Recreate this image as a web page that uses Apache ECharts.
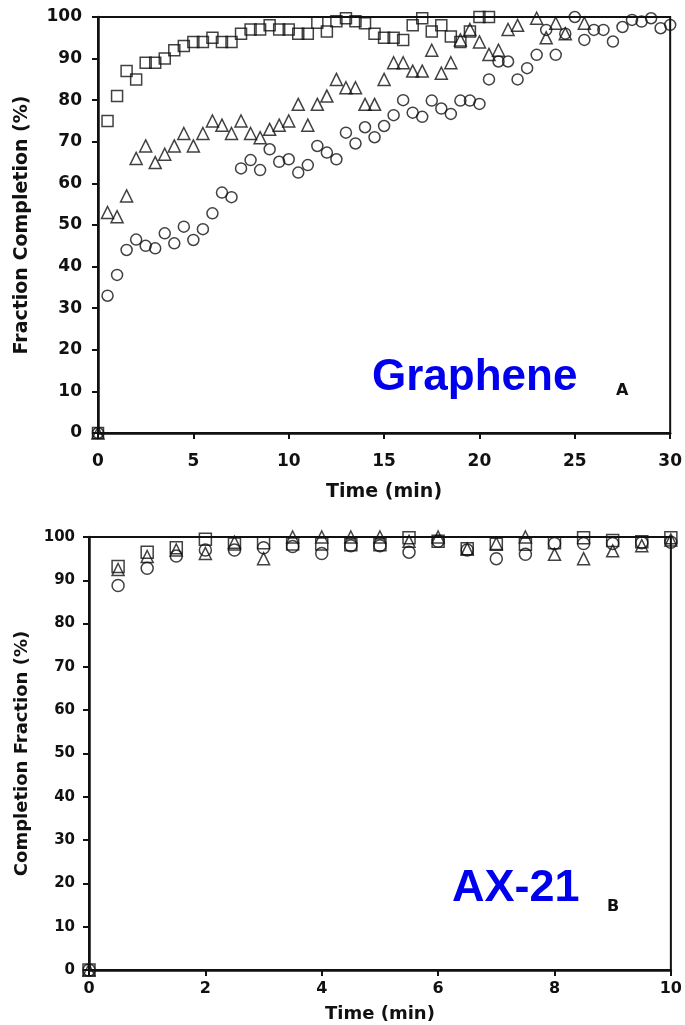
<!DOCTYPE html>
<html>
<head>
<meta charset="utf-8">
<title></title>
<script src="https://cdn.jsdelivr.net/npm/echarts@6/dist/echarts.min.js"></script>
<style>
  html, body { margin: 0; padding: 0; background: #fff; }
  #chart { width: 685px; height: 1025px; }
</style>
</head>
<body>
<div id="chart"></div>
<script>
// panel A: graphene, time in min
var timeA = [0, 0.5, 1, 1.5, 2, 2.5, 3, 3.5, 4, 4.5, 5, 5.5, 6, 6.5, 7, 7.5, 8, 8.5, 9, 9.5,
  10, 10.5, 11, 11.5, 12, 12.5, 13, 13.5, 14, 14.5, 15, 15.5, 16, 16.5, 17, 17.5, 18, 18.5, 19, 19.5,
  20, 20.5, 21, 21.5, 22, 22.5, 23, 23.5, 24, 24.5, 25, 25.5, 26, 26.5, 27, 27.5, 28, 28.5, 29, 29.5, 30];
var squaresA = [0, 75, 81, 87, 85, 89, 89, 90, 92, 93, 94, 94, 95, 94, 94, 96, 97, 97, 98, 97,
  97, 96, 96, 98.6, 96.5, 99, 99.7, 99, 98.5, 96, 95, 95, 94.5, 98, 99.7, 96.5, 98, 95.3, 94, 96.5,
  100, 100];
var trianglesA = [0, 53, 52, 57, 66, 69, 65, 67, 69, 72, 69, 72, 75, 74, 72, 75, 72, 71, 73, 74,
  75, 79, 74, 79, 81, 85, 83, 83, 79, 79, 85, 89, 89, 87, 87, 92, 86.5, 89, 94.5, 97,
  94, 91, 92, 97, 98, null, 99.7, 95, 98.5, 96, null, 98.5];
var circlesA = [0, 33, 38, 44, 46.5, 45, 44.4, 48, 45.6, 49.6, 46.4, 49, 52.8, 57.8, 56.7, 63.6, 65.6, 63.2, 68.2, 65.2,
  65.8, 62.6, 64.4, 69, 67.4, 65.8, 72.2, 69.6, 73.5, 71.1, 73.8, 76.4, 80, 77, 76, 79.9, 78, 76.7, 79.9, 79.9,
  79.1, 85, 89.3, 89.3, 85, 87.7, 90.9, 96.9, 90.9, 96, 100, 94.5, 96.9, 96.9, 94.1, 97.6, 99.3, 98.9, 99.7, 97.3, 98.1];

// panel B: AX-21
var timeB = [0, 0.5, 1, 1.5, 2, 2.5, 3, 3.5, 4, 4.5, 5, 5.5, 6, 6.5, 7, 7.5, 8, 8.5, 9, 9.5, 10];
var squaresB = [0, 93.2, 96.5, 97.5, 99.5, 98.4, 98.7, 98.4, 98.4, 98.2, 98.2, 99.8, 99, 97.3, 98.3, 98.3, 98.7, 99.8, 99.2, 98.9, 99.8];
var trianglesB = [0, 92.5, 95.5, 97, 96.2, 98.8, 95, 100, 100, 100, 100, 99, 100, 97.2, 98.5, 100, 96, 95, 96.8, 98, 99.3];
var circlesB = [0, 88.8, 92.8, 95.6, 97, 97, 97.5, 97.8, 96.2, 98, 98, 96.5, 99, 97, 95, 96, 98.5, 98.5, 98.5, 98.7, 98.8];

var yTicks = [0, 10, 20, 30, 40, 50, 60, 70, 80, 90, 100];

function pairs(t, v) {
  var out = [];
  for (var i = 0; i < v.length; i++) {
    if (v[i] != null) out.push([t[i], v[i]]);
  }
  return out;
}

function font(size) {
  return { fontFamily: 'DejaVu Sans', fontWeight: 'bold', fontSize: size, color: '#111' };
}

function xAx(gi, max, step, lsize, margin, nsize, gap) {
  return {
    gridIndex: gi, type: 'value', min: 0, max: max, interval: step,
    name: 'Time (min)', nameLocation: 'middle', nameGap: gap, nameTextStyle: font(nsize),
    axisLine: { lineStyle: { color: '#111', width: 2.5 } },
    axisTick: { length: 6, lineStyle: { color: '#111', width: 2 } },
    axisLabel: Object.assign({ margin: margin }, font(lsize)),
    splitLine: { show: false }
  };
}

function yAx(gi, name, lsize, margin, nsize, gap) {
  return {
    gridIndex: gi, type: 'value', min: yTicks[0], max: yTicks[yTicks.length - 1], interval: 10,
    name: name, nameLocation: 'middle', nameRotate: 90, nameGap: gap, nameTextStyle: font(nsize),
    axisLine: { show: true, lineStyle: { color: '#111', width: 2.5 } },
    axisTick: { show: true, length: 6, lineStyle: { color: '#111', width: 2 } },
    axisLabel: Object.assign({ margin: margin }, font(lsize)),
    splitLine: { show: false }
  };
}

function sc(idx, sym, size, data) {
  return {
    type: 'scatter', xAxisIndex: idx, yAxisIndex: idx, symbol: sym, symbolSize: size,
    clip: false, data: data, silent: true,
    itemStyle: { color: 'rgba(0,0,0,0)', borderColor: '#111', borderWidth: 1.5 }
  };
}

var chart = echarts.init(document.getElementById('chart'));
chart.setOption({
  backgroundColor: '#fff',
  animation: false,
  grid: [
    { left: 98, top: 17, width: 573, height: 416, show: true, borderColor: '#111', borderWidth: 2, backgroundColor: 'transparent' },
    { left: 89, top: 537, width: 584, height: 433, show: true, borderColor: '#111', borderWidth: 2, backgroundColor: 'transparent' }
  ],
  xAxis: [xAx(0, 30, 5, 17, 20, 19, 50), xAx(1, 10, 2, 16, 11, 18, 35)],
  yAxis: [yAx(0, 'Fraction Completion (%)', 17, 16, 19, 66), yAx(1, 'Completion Fraction (%)', 15, 14, 18, 58)],
  series: [
    sc(0, 'rect', 11, pairs(timeA, squaresA)),
    sc(0, 'triangle', 12, pairs(timeA, trianglesA)),
    sc(0, 'circle', 11, pairs(timeA, circlesA)),
    sc(1, 'rect', 12, pairs(timeB, squaresB)),
    sc(1, 'triangle', 12, pairs(timeB, trianglesB)),
    sc(1, 'circle', 12, pairs(timeB, circlesB))
  ],
  graphic: [
    { type: 'text', left: 372, top: 356, style: { text: 'Graphene', fill: '#0000ee', font: 'bold 44px "Liberation Sans"' } },
    { type: 'text', left: 616, top: 383, style: { text: 'A', fill: '#111', font: 'bold 16px "DejaVu Sans"' } },
    { type: 'text', left: 452, top: 866, style: { text: 'AX-21', fill: '#0000ee', font: 'bold 45px "Liberation Sans"' } },
    { type: 'text', left: 607, top: 899, style: { text: 'B', fill: '#111', font: 'bold 16px "DejaVu Sans"' } }
  ]
});
</script>
</body>
</html>
